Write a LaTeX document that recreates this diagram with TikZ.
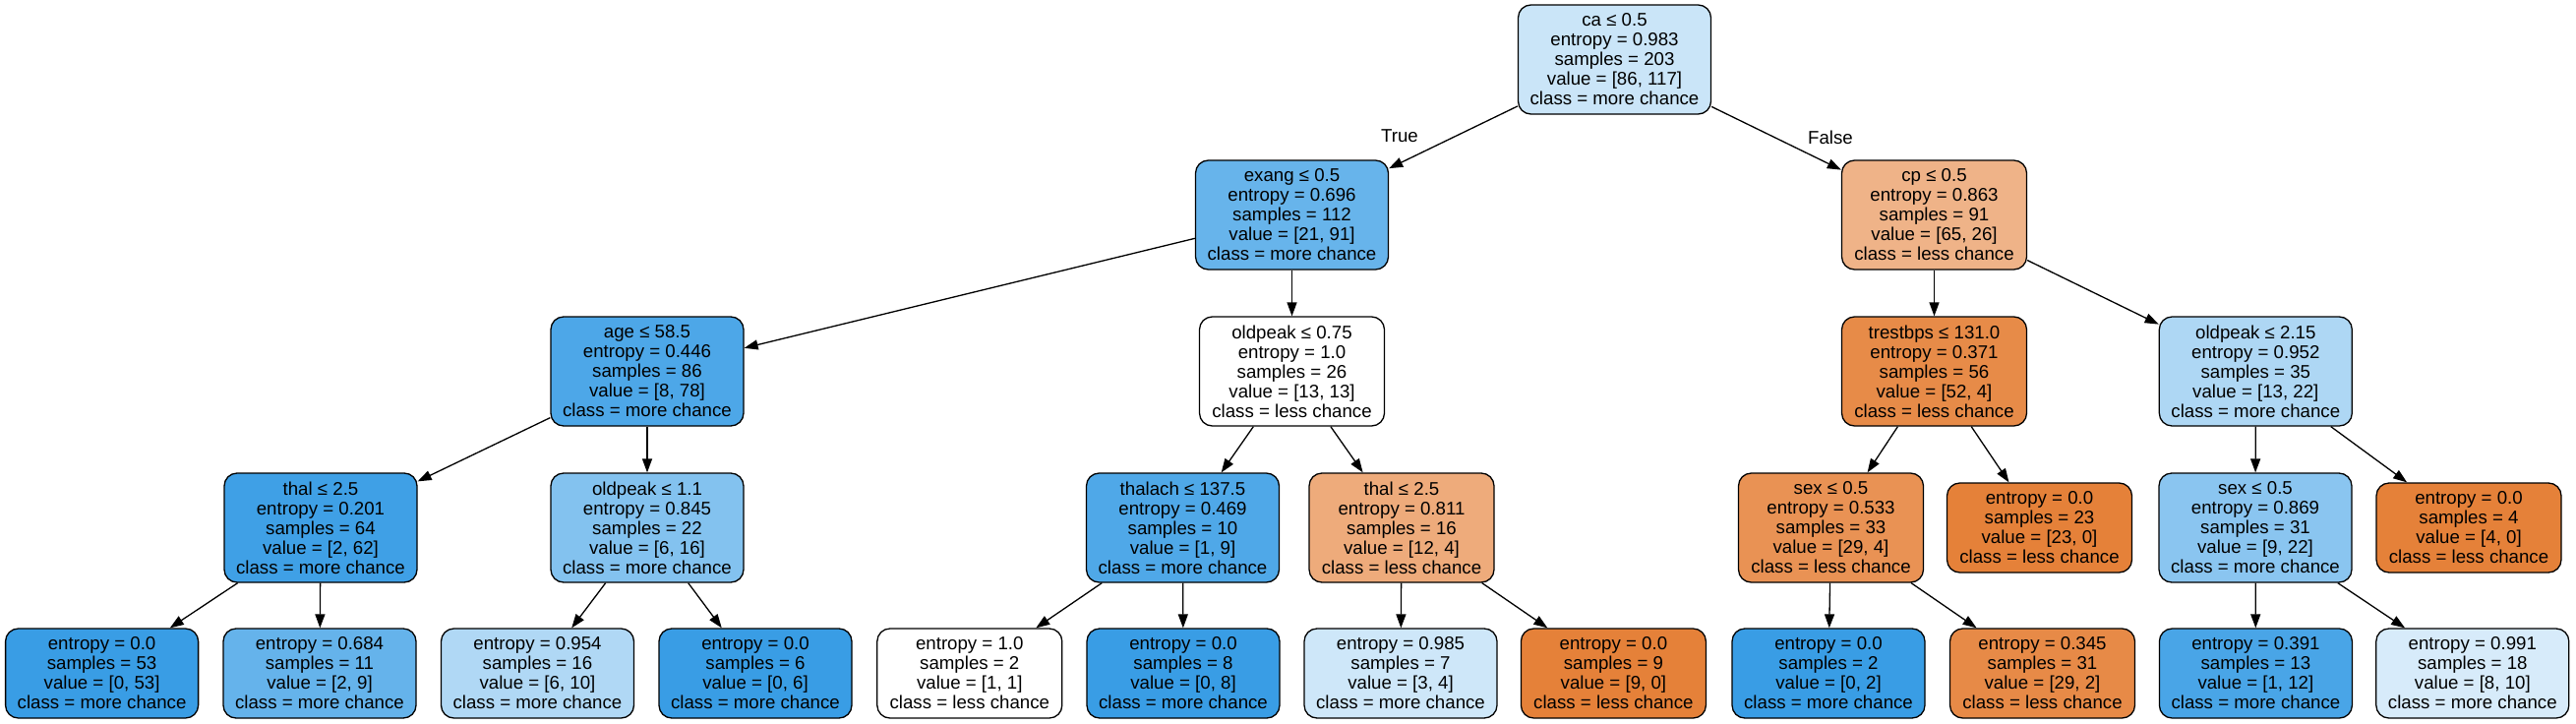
\documentclass[tikz,border=0pt]{standalone}
\usepackage{fontspec}
\usetikzlibrary{arrows.meta}
\newfontfamily\treefont{Liberation Sans}
\definecolor{cRoot}{RGB}{202,229,248}
\definecolor{cExang}{RGB}{103,180,235}
\definecolor{cCp}{RGB}{239,179,136}
\definecolor{cAge}{RGB}{77,167,232}
\definecolor{cTrest}{RGB}{231,139,72}
\definecolor{cOpB}{RGB}{174,215,244}
\definecolor{cThalA}{RGB}{63,160,230}
\definecolor{cOpC}{RGB}{131,194,239}
\definecolor{cThalach}{RGB}{79,168,232}
\definecolor{cThalB}{RGB}{238,171,123}
\definecolor{cSexA}{RGB}{233,146,84}
\definecolor{cSexB}{RGB}{138,197,240}
\definecolor{cBlue}{RGB}{57,157,229}
\definecolor{cOrange}{RGB}{229,129,57}
\definecolor{cLeafEleven}{RGB}{101,179,235}
\definecolor{cLeafSixteen}{RGB}{176,216,245}
\definecolor{cLeafSeven}{RGB}{206,231,249}
\definecolor{cLeafThirtyOne}{RGB}{231,138,71}
\definecolor{cLeafThirteen}{RGB}{73,165,231}
\definecolor{cLeafEighteen}{RGB}{215,235,250}
\begin{document}
\begin{tikzpicture}[x=1pt,y=-1pt,
  tn/.style={draw=black, line width=1.3pt, rounded corners=13pt, align=center,
    inner sep=0pt, font={\treefont\fontsize{18.67}{20}\selectfont}, minimum height=111pt},
  leaf/.style={tn, minimum height=91pt},
  more/.style={minimum width=196pt},
  less/.style={minimum width=188pt},
  lbl/.style={font={\treefont\fontsize{18.67}{20}\selectfont}, inner sep=0pt},
  edge/.style={-{Triangle[length=14pt,width=10pt]}, line width=1.3pt}]
\fill[white] (0,0) rectangle (2619,736);
\useasboundingbox (0,0) rectangle (2619,736);
% level 0
\node[tn,more,fill=cRoot] (root) at (1641.5,60.5) {ca ≤ 0.5\\entropy = 0.983\\samples = 203\\value = [86, 117]\\class = more chance};
% level 1
\node[tn,more,fill=cExang] (exang) at (1313.5,218.5) {exang ≤ 0.5\\entropy = 0.696\\samples = 112\\value = [21, 91]\\class = more chance};
\node[tn,less,fill=cCp] (cp) at (1966.5,218.5) {cp ≤ 0.5\\entropy = 0.863\\samples = 91\\value = [65, 26]\\class = less chance};
% level 2
\node[tn,more,fill=cAge] (age) at (658,377.5) {age ≤ 58.5\\entropy = 0.446\\samples = 86\\value = [8, 78]\\class = more chance};
\node[tn,less,fill=white] (opA) at (1313.5,377.5) {oldpeak ≤ 0.75\\entropy = 1.0\\samples = 26\\value = [13, 13]\\class = less chance};
\node[tn,less,fill=cTrest] (trest) at (1966.5,377.5) {trestbps ≤ 131.0\\entropy = 0.371\\samples = 56\\value = [52, 4]\\class = less chance};
\node[tn,more,fill=cOpB] (opB) at (2293.3,377.5) {oldpeak ≤ 2.15\\entropy = 0.952\\samples = 35\\value = [13, 22]\\class = more chance};
% level 3
\node[tn,more,fill=cThalA] (thalA) at (326,536.5) {thal ≤ 2.5\\entropy = 0.201\\samples = 64\\value = [2, 62]\\class = more chance};
\node[tn,more,fill=cOpC] (opC) at (658,536.5) {oldpeak ≤ 1.1\\entropy = 0.845\\samples = 22\\value = [6, 16]\\class = more chance};
\node[tn,more,fill=cThalach] (thalach) at (1202.5,536.5) {thalach ≤ 137.5\\entropy = 0.469\\samples = 10\\value = [1, 9]\\class = more chance};
\node[tn,less,fill=cThalB] (thalB) at (1425,536.5) {thal ≤ 2.5\\entropy = 0.811\\samples = 16\\value = [12, 4]\\class = less chance};
\node[tn,less,fill=cSexA] (sexA) at (1861.5,536.5) {sex ≤ 0.5\\entropy = 0.533\\samples = 33\\value = [29, 4]\\class = less chance};
\node[leaf,less,fill=cOrange] (lTwentyThree) at (2073.5,536.5) {entropy = 0.0\\samples = 23\\value = [23, 0]\\class = less chance};
\node[tn,more,fill=cSexB] (sexB) at (2293,536.5) {sex ≤ 0.5\\entropy = 0.869\\samples = 31\\value = [9, 22]\\class = more chance};
\node[leaf,less,fill=cOrange] (lFour) at (2510,536.5) {entropy = 0.0\\samples = 4\\value = [4, 0]\\class = less chance};
% level 4
\node[leaf,more,fill=cBlue] (lA) at (103.6,684.5) {entropy = 0.0\\samples = 53\\value = [0, 53]\\class = more chance};
\node[leaf,more,fill=cLeafEleven] (lB) at (325,684.5) {entropy = 0.684\\samples = 11\\value = [2, 9]\\class = more chance};
\node[leaf,more,fill=cLeafSixteen] (lC) at (546.5,684.5) {entropy = 0.954\\samples = 16\\value = [6, 10]\\class = more chance};
\node[leaf,more,fill=cBlue] (lD) at (768,684.5) {entropy = 0.0\\samples = 6\\value = [0, 6]\\class = more chance};
\node[leaf,less,fill=white] (lE) at (985.8,684.5) {entropy = 1.0\\samples = 2\\value = [1, 1]\\class = less chance};
\node[leaf,more,fill=cBlue] (lF) at (1203,684.5) {entropy = 0.0\\samples = 8\\value = [0, 8]\\class = more chance};
\node[leaf,more,fill=cLeafSeven] (lG) at (1424,684.5) {entropy = 0.985\\samples = 7\\value = [3, 4]\\class = more chance};
\node[leaf,less,fill=cOrange] (lH) at (1640.4,684.5) {entropy = 0.0\\samples = 9\\value = [9, 0]\\class = less chance};
\node[leaf,more,fill=cBlue] (lI) at (1859,684.5) {entropy = 0.0\\samples = 2\\value = [0, 2]\\class = more chance};
\node[leaf,less,fill=cLeafThirtyOne] (lJ) at (2076.5,684.5) {entropy = 0.345\\samples = 31\\value = [29, 2]\\class = less chance};
\node[leaf,more,fill=cLeafThirteen] (lK) at (2293.4,684.5) {entropy = 0.391\\samples = 13\\value = [1, 12]\\class = more chance};
\node[leaf,more,fill=cLeafEighteen] (lL) at (2513.8,684.5) {entropy = 0.991\\samples = 18\\value = [8, 10]\\class = more chance};
% edge labels
\node[lbl] (tTrue) at (1423,138) {True};
\node[lbl] (tFalse) at (1861,140) {False};
% edges
\draw[edge] (root) -- (exang);
\draw[edge] (root) -- (cp);
\draw[edge] (exang) -- (age);
\draw[edge] (exang) -- (opA);
\draw[edge] (cp) -- (trest);
\draw[edge] (cp) -- (opB);
\draw[edge] (age) -- (thalA);
\draw[edge] (age) -- (opC);
\draw[edge] (opA) -- (thalach);
\draw[edge] (opA) -- (thalB);
\draw[edge] (trest) -- (sexA);
\draw[edge] (trest) -- (lTwentyThree);
\draw[edge] (opB) -- (sexB);
\draw[edge] (opB) -- (lFour);
\draw[edge] (thalA) -- (lA);
\draw[edge] (thalA) -- (lB);
\draw[edge] (opC) -- (lC);
\draw[edge] (opC) -- (lD);
\draw[edge] (thalach) -- (lE);
\draw[edge] (thalach) -- (lF);
\draw[edge] (thalB) -- (lG);
\draw[edge] (thalB) -- (lH);
\draw[edge] (sexA) -- (lI);
\draw[edge] (sexA) -- (lJ);
\draw[edge] (sexB) -- (lK);
\draw[edge] (sexB) -- (lL);
\end{tikzpicture}
\end{document}
